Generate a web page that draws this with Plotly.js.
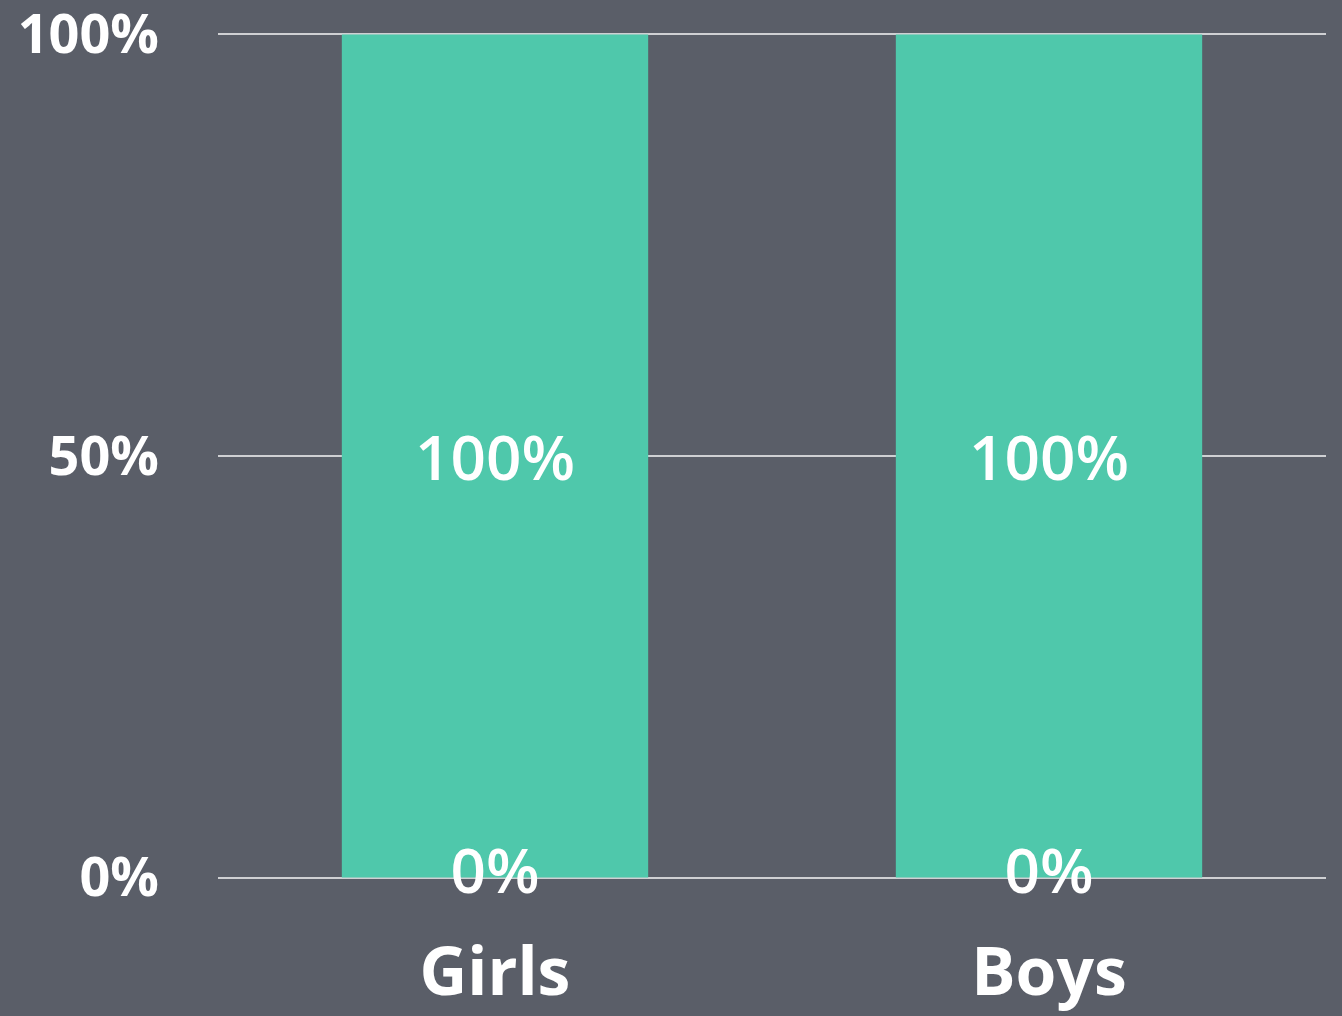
<!DOCTYPE html>
<html>
<head>
<meta charset="utf-8">
<script src="https://cdn.plot.ly/plotly-3.0.1.min.js"></script>
<style>
html,body{margin:0;padding:0;background:#5a5e68;}
#chart{width:1342px;height:1016px;}
</style>
</head>
<body>
<div id="chart"></div>
<script>
const categories = ["Girls", "Boys"];
const mainValues = [100, 100];
const mainLabels = ["100%", "100%"];
const zeroValues = [0, 0];
const zeroLabels = ["0%", "0%"];
const yTickVals = [0, 50, 100];
const yTickText = ["0%", "50%", "100%"];

const traces = [
  {
    type: "bar",
    x: categories,
    y: mainValues,
    text: mainLabels,
    textposition: "inside",
    insidetextanchor: "middle",
    textfont: {family: "'Open Sans', sans-serif", size: 62, color: "#ffffff", weight: 600},
    marker: {color: "#4fc8ab"},
    hoverinfo: "skip",
    showlegend: false
  },
  {
    type: "scatter",
    mode: "text",
    x: categories,
    y: zeroValues,
    text: zeroLabels,
    textposition: "middle center",
    textfont: {family: "'Open Sans', sans-serif", size: 62, color: "#ffffff", weight: 600},
    hoverinfo: "skip",
    showlegend: false,
    cliponaxis: false
  }
];

const layout = {
  width: 1342,
  height: 1016,
  margin: {l: 218, r: 16, t: 25.56, b: 129.56},
  paper_bgcolor: "#5a5e68",
  plot_bgcolor: "rgba(0,0,0,0)",
  bargap: 0.447,
  showlegend: false,
  xaxis: {
    type: "category",
    tickfont: {family: "'Open Sans', sans-serif", size: 66, color: "#ffffff", weight: "bold"},
    showgrid: false,
    zeroline: false,
    showline: false,
    ticks: "",
    ticklabelstandoff: 42
  },
  yaxis: {
    range: [-1, 101],
    tickvals: yTickVals,
    ticktext: yTickText,
    tickfont: {family: "'Open Sans', sans-serif", size: 54, color: "#ffffff", weight: "bold"},
    ticklabeloverflow: "allow",
    showgrid: true,
    gridcolor: "#cfd0d3",
    gridwidth: 2,
    zeroline: true,
    zerolinecolor: "#cfd0d3",
    zerolinewidth: 2,
    showline: false,
    ticks: "",
    ticklabelstandoff: 58,
    fixedrange: true
  }
};

Plotly.newPlot("chart", traces, layout, {displayModeBar: false, staticPlot: true});
</script>
</body>
</html>
